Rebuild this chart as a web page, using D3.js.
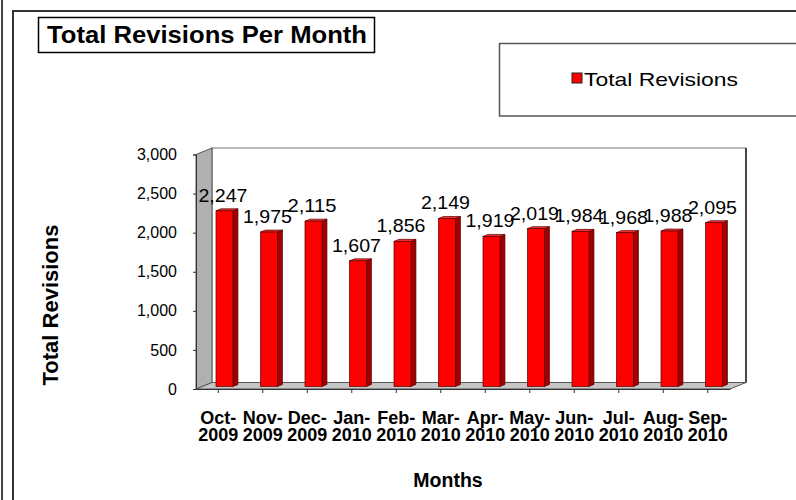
<!DOCTYPE html>
<html>
<head>
<meta charset="utf-8">
<script src="https://cdnjs.cloudflare.com/ajax/libs/d3/7.8.5/d3.min.js"></script>
<style>
  body { margin: 0; background: #fff; }
  text { font-family: Arial, "Liberation Sans", sans-serif; }
</style>
</head>
<body>
<script>
// data
var months = ["Oct-2009", "Nov-2009", "Dec-2009", "Jan-2010", "Feb-2010", "Mar-2010",
              "Apr-2010", "May-2010", "Jun-2010", "Jul-2010", "Aug-2010", "Sep-2010"];
var revisions = [2247, 1975, 2115, 1607, 1856, 2149, 1919, 2019, 1984, 1968, 1988, 2095];
var yTicks = [0, 500, 1000, 1500, 2000, 2500, 3000];

var W = 796, H = 500;
// plot front plane + 3d depth offset
var x0 = 196, x1 = 730, y0 = 389, y1 = 154.5;
var DX = 16, DY = -6.5;

var data = months.map(function(m, i) { return {month: m, value: revisions[i]}; });

var svg = d3.select("body").append("svg")
    .attr("width", W)
    .attr("height", H);

// outer frames
svg.append("line")
    .attr("x1", 2).attr("x2", 2).attr("y1", 0).attr("y2", H)
    .attr("stroke", "#444").attr("stroke-width", 2);
svg.append("rect")
    .attr("x", 13).attr("y", 11).attr("width", W).attr("height", H)
    .attr("fill", "none").attr("stroke", "#333").attr("stroke-width", 2);

// title (source picture is a bit stretched sideways, so fix the width)
svg.append("rect")
    .attr("x", 38.5).attr("y", 17.5).attr("width", 336).attr("height", 35)
    .attr("fill", "#fff").attr("stroke", "#000").attr("stroke-width", 1.5);
svg.append("text")
    .attr("x", 47).attr("y", 43)
    .attr("textLength", 320).attr("lengthAdjust", "spacingAndGlyphs")
    .style("font-size", "24px").style("font-weight", "bold")
    .text("Total Revisions Per Month");

// legend
svg.append("rect")
    .attr("x", 499.5).attr("y", 43.5).attr("width", 320).attr("height", 72.5)
    .attr("fill", "#fff").attr("stroke", "#555").attr("stroke-width", 1.5);
svg.append("rect")
    .attr("x", 572).attr("y", 73).attr("width", 10).attr("height", 10)
    .attr("fill", "#ff0000").attr("stroke", "#222");
svg.append("text")
    .attr("x", 584).attr("y", 86)
    .attr("textLength", 154).attr("lengthAdjust", "spacingAndGlyphs")
    .style("font-size", "19px")
    .text("Total Revisions");

var x = d3.scaleBand()
    .domain(months)
    .range([x0, x1])
    .padding(0);

var y = d3.scaleLinear()
    .domain([0, 3000])
    .range([y0, y1]);

// walls
svg.append("rect")
    .attr("x", x0 + DX).attr("y", y1 + DY)
    .attr("width", x1 - x0).attr("height", y0 - y1)
    .attr("fill", "#fff").attr("stroke", "#777");
svg.append("line")
    .attr("x1", x1 + DX).attr("x2", x1 + DX)
    .attr("y1", y1 + DY).attr("y2", y0 + DY)
    .attr("stroke", "#222").attr("stroke-width", 1.5);

var pts = function(a) { return a.map(function(p) { return p.join(","); }).join(" "); };

svg.append("polygon")
    .attr("points", pts([[x0, y1], [x0 + DX, y1 + DY], [x0 + DX, y0 + DY], [x0, y0]]))
    .attr("fill", "#b0b0b0").attr("stroke", "#555");
svg.append("polygon")
    .attr("points", pts([[x0, y0], [x1, y0], [x1 + DX, y0 + DY], [x0 + DX, y0 + DY]]))
    .attr("fill", "#c6c6c6").attr("stroke", "#555");

// y axis
svg.append("g")
    .attr("transform", "translate(" + x0 + ",0)")
    .call(d3.axisLeft(y).tickValues(yTicks).tickFormat(d3.format(",")).tickSize(3).tickPadding(16))
    .call(function(g) {
      g.select(".domain").attr("stroke", "#333");
      g.selectAll("line").attr("stroke", "#333");
      g.selectAll("text").style("font-size", "16px").attr("fill", "#000");
    });

// x axis, two-line month labels
svg.append("g")
    .attr("transform", "translate(0," + y0 + ")")
    .call(d3.axisBottom(x).tickSize(4).tickSizeOuter(0))
    .call(function(g) {
      g.select(".domain").attr("stroke", "#333");
      g.selectAll("line").attr("stroke", "#333");
      g.selectAll("text").each(function(d) {
        var parts = d.split("-");
        var t = d3.select(this).text(null)
            .attr("y", 0).attr("dy", null)
            .attr("fill", "#000")
            .style("font-size", "18px").style("font-weight", "bold");
        t.append("tspan").attr("x", 0).attr("y", 35).text(parts[0] + "-");
        t.append("tspan").attr("x", 0).attr("y", 52).text(parts[1]);
      });
    });

// bars
var z1 = 0.39, z2 = 0.7, bw = 17;
var bars = svg.append("g").selectAll("g")
    .data(data)
    .enter()
    .append("g");

function fx(d) { return x(d.month) + x.bandwidth() / 2 + z1 * DX - bw / 2; }
function fyTop(d) { return y(d.value) + z1 * DY; }
var fyBot = y0 + z1 * DY;
var ddx = (z2 - z1) * DX, ddy = (z2 - z1) * DY;

bars.append("polygon")
    .attr("points", function(d) {
      var l = fx(d) + bw, t = fyTop(d);
      return pts([[l, t], [l + ddx, t + ddy], [l + ddx, fyBot + ddy], [l, fyBot]]);
    })
    .attr("fill", "#a00000").attr("stroke", "#500").attr("stroke-width", 0.7);
bars.append("polygon")
    .attr("points", function(d) {
      var l = fx(d), t = fyTop(d);
      return pts([[l, t], [l + bw, t], [l + bw + ddx, t + ddy], [l + ddx, t + ddy]]);
    })
    .attr("fill", "#ff3030").attr("stroke", "#500").attr("stroke-width", 0.7);
bars.append("rect")
    .attr("x", fx)
    .attr("y", fyTop)
    .attr("width", bw)
    .attr("height", function(d) { return fyBot - fyTop(d); })
    .attr("fill", "#ff0000").attr("stroke", "#500").attr("stroke-width", 0.7);

bars.append("text")
    .attr("x", function(d) { return fx(d) + bw / 2 - 26; })
    .attr("y", function(d) { return fyTop(d) - 9; })
    .attr("textLength", 49).attr("lengthAdjust", "spacingAndGlyphs")
    .style("font-size", "18.5px")
    .text(function(d) { return d3.format(",")(d.value); });

// axis titles
svg.append("text")
    .attr("transform", "translate(58,305) rotate(-90)")
    .attr("text-anchor", "middle")
    .style("font-size", "22px").style("font-weight", "bold")
    .text("Total Revisions");
svg.append("text")
    .attr("x", 448).attr("y", 487)
    .attr("text-anchor", "middle")
    .style("font-size", "19.5px").style("font-weight", "bold")
    .text("Months");
</script>
</body>
</html>
